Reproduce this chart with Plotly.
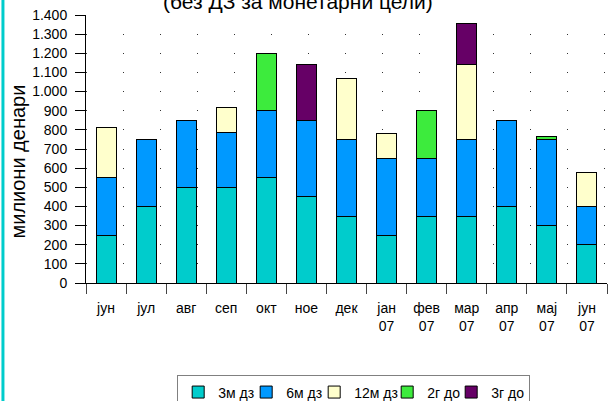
import plotly.graph_objects as go

categories = ["јун", "јул", "авг", "сеп", "окт", "ное", "дек",
              "јан<br>07", "фев<br>07", "мар<br>07", "апр<br>07", "мај<br>07", "јун<br>07"]

s_3m_dz = [250, 400, 500, 500, 550, 450, 350, 250, 350, 350, 400, 300, 200]
s_6m_dz = [300, 350, 350, 285, 350, 400, 400, 400, 300, 400, 450, 450, 200]
s_12m_dz = [260, 0, 0, 130, 0, 0, 320, 130, 0, 390, 0, 0, 175]
s_2g_do = [0, 0, 0, 0, 300, 0, 0, 0, 250, 0, 0, 15, 0]
s_3g_do = [0, 0, 0, 0, 0, 290, 0, 0, 0, 215, 0, 0, 0]

series_names = ["3м дз", "6м дз", "12м дз", "2г до", "3г до"]
series_values = [s_3m_dz, s_6m_dz, s_12m_dz, s_2g_do, s_3g_do]
series_colors = ["#00CCCC", "#0099FF", "#FFFFCC", "#3DEB3D", "#660066"]
legend_widths = [23, 23, 28, 19, 33]

title_text = "(без ДЗ за монетарни цели)"
y_title = "милиони денари"

FONT = "Arial, 'Liberation Sans', sans-serif"

fig = go.Figure()
for name, vals, col, lw in zip(series_names, series_values, series_colors, legend_widths):
    fig.add_trace(go.Bar(
        x=categories, y=vals, name=name,
        marker=dict(color=col, line=dict(color="#000000", width=1)),
        width=0.5, legendwidth=lw,
    ))

fig.update_layout(
    barmode="stack",
    width=608, height=401,
    margin=dict(l=86, r=1, t=15, b=118, autoexpand=False),
    paper_bgcolor="white", plot_bgcolor="white",
    font=dict(family=FONT, size=14, color="black"),
    separators=",.",
    showlegend=True,
    legend=dict(
        orientation="h", x=0.175, xanchor="left", y=-0.345, yanchor="top",
        bordercolor="#808080", borderwidth=1, bgcolor="white",
        font=dict(family=FONT, size=14, color="black"),
        traceorder="normal",
    ),
    annotations=[
        dict(text=title_text, xref="paper", yref="paper", x=0.407, y=1.0,
             xanchor="center", yanchor="bottom", showarrow=False,
             font=dict(family=FONT, size=21, color="black")),
        dict(text=y_title, xref="paper", yref="paper", x=-0.1296, y=0.455,
             xanchor="center", yanchor="middle", textangle=-90, showarrow=False,
             font=dict(family=FONT, size=20, color="black")),
    ],
    shapes=[
        dict(type="line", xref="paper", yref="paper",
             x0=-0.1594, x1=-0.1594, y0=-0.45, y1=1.06,
             line=dict(color="#00CCCC", width=3)),
    ],
)

fig.update_xaxes(
    type="category", showline=True, linecolor="black", linewidth=1,
    ticks="outside", tickson="boundaries", ticklen=10, tickcolor="#444444",
    showgrid=False, tickfont=dict(size=14), ticklabelstandoff=12,
)
fig.update_yaxes(
    range=[0, 1400], dtick=100, tickformat=",d",
    showline=True, linecolor="black", linewidth=1,
    ticks="outside", ticklen=10, tickcolor="black",
    showgrid=True, gridcolor="#333333", gridwidth=1, griddash="1px,36px",
    zeroline=False, tickfont=dict(size=14), ticklabelstandoff=5,
)

fig.write_html("out.html", config={"displayModeBar": False},
               post_script="document.body.style.margin='0';document.body.style.overflow='hidden';")
